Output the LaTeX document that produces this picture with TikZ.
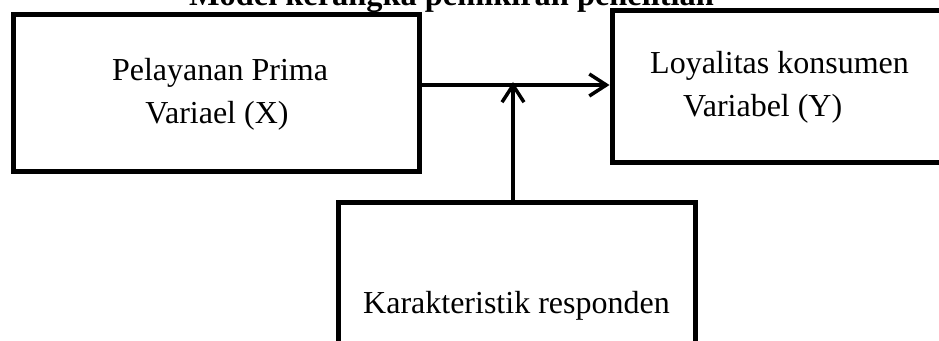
\documentclass[tikz,border=0pt]{standalone}
\usepackage{fontspec}
\setmainfont{Liberation Serif}
\usetikzlibrary{arrows.meta}
\begin{document}
\begin{tikzpicture}[x=1pt,y=1pt,
  box/.style={draw,line width=5pt,rectangle,inner sep=0pt},
  lbl/.style={inner sep=0pt,font=\fontsize{32}{43}\selectfont},
  arr/.style={line width=3.5pt,-{Straight Barb[length=17pt,width=22pt,line width=3.5pt]}}]
\clip (0,0) rectangle (939,340);
\fill[white] (0,0) rectangle (939,340);
\node[lbl,anchor=base,font=\fontsize{32.4}{40}\selectfont\bfseries] (title) at (451.5,334) {Model kerangka pemikiran penelitian};
\node[box,minimum width=405.7pt,minimum height=157pt] (left) at (216.2,246.5) {};
\node[box,minimum width=348pt,minimum height=151.5pt] (right) at (786,253.25) {};
\node[box,minimum width=356.7pt,minimum height=177pt] (bottom) at (516.65,48.5) {};
\node[lbl,anchor=base] (t1) at (220,259) {Pelayanan Prima};
\node[lbl,anchor=base] (t2) at (217,216.7) {Variael (X)};
\node[lbl,anchor=base west] (t3) at (650,266.7) {Loyalitas konsumen};
\node[lbl,anchor=base west] (t4) at (683,223.3) {Variabel (Y)};
\node[lbl,anchor=base west] (t5) at (363,27) {Karakteristik responden};
\coordinate (hs) at ([yshift=8.5pt]left.east);
\coordinate (meet) at (513,258);
\draw[arr] (hs) -- (hs -| right.west);
\draw[arr] (bottom.north -| meet) -- (meet);
\end{tikzpicture}
\end{document}
